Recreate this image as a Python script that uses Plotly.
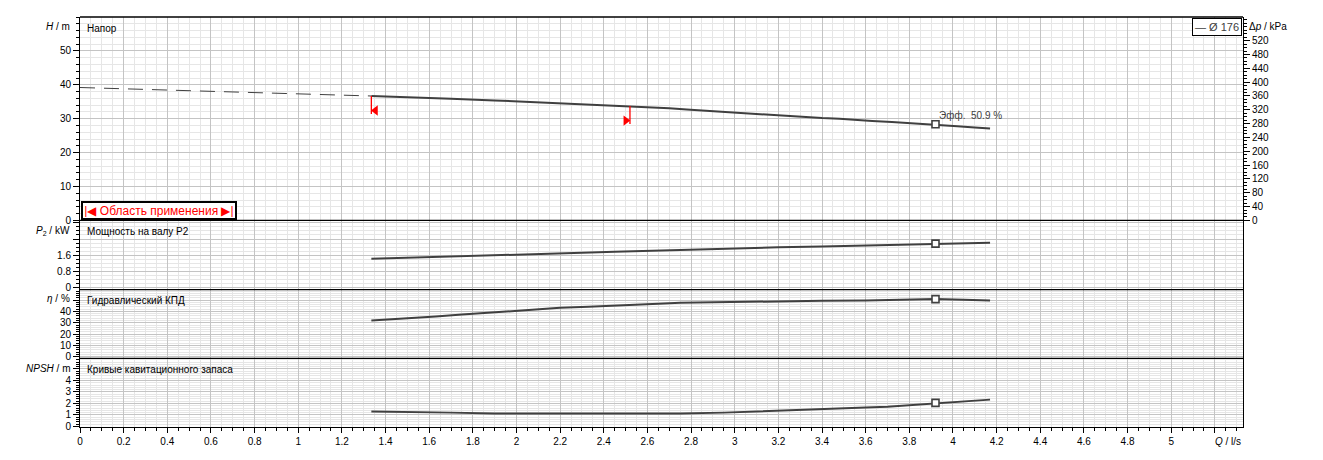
import numpy as np
import plotly.graph_objects as go

# ---------------- data ----------------
# extrapolated (dashed) part of the head curve
Q_EXT = [0.0, 0.1, 0.2, 0.3, 0.4, 0.5, 0.6, 0.7, 0.8, 0.9, 1.0, 1.1, 1.2, 1.335]
H_EXT = [39.2, 39.0, 38.85, 38.65, 38.45, 38.3, 38.15, 37.95, 37.7, 37.5, 37.3, 37.1, 36.9, 36.7]

# head curve (solid)
Q_H = [1.335, 1.5, 1.7, 1.9, 2.1, 2.3, 2.5, 2.62, 2.7, 2.78, 2.86, 2.94, 3.0, 3.1, 3.17, 3.24,
       3.32, 3.4, 3.48, 3.55, 3.63, 3.72, 3.8, 3.92, 4.02, 4.1, 4.17]
H_VAL = [36.7, 36.4, 35.9, 35.4, 34.85, 34.3, 33.8, 33.4, 33.05, 32.7, 32.35, 32.0, 31.75, 31.4, 31.1, 30.8,
         30.5, 30.2, 30.0, 29.6, 29.3, 29.0, 28.7, 28.35, 27.8, 27.4, 27.1]

# shaft power P2
Q_P = [1.335, 1.45, 1.6, 1.75, 1.95, 2.1, 2.3, 2.45, 2.6, 2.75, 3.0, 3.2, 3.4, 3.55, 3.7, 3.9, 4.05, 4.17]
P2_VAL = [1.42, 1.46, 1.51, 1.56, 1.61, 1.66, 1.72, 1.77, 1.82, 1.87, 1.94, 1.99, 2.03, 2.07, 2.12, 2.17, 2.2, 2.22]

# hydraulic efficiency
Q_ETA = [1.335, 1.46, 1.55, 1.63, 1.75, 1.85, 1.95, 2.04, 2.12, 2.2, 2.33, 2.47, 2.56, 2.65, 2.75,
         3.0, 3.2, 3.4, 3.6, 3.8, 3.92, 4.05, 4.17]
ETA_VAL = [32.1, 33.3, 34.5, 35.6, 37.2, 38.3, 39.6, 41.0, 42.2, 43.2, 44.1, 45.0, 45.9, 46.8, 47.6,
           48.5, 49.0, 49.4, 49.7, 50.6, 50.9, 50.3, 49.7]

# NPSH
Q_NPSH = [1.335, 1.5, 1.7, 1.9, 2.2, 2.5, 2.75, 2.95, 3.1, 3.25, 3.4, 3.5, 3.6, 3.7, 3.8, 3.9, 4.0, 4.1, 4.17]
NPSH_VAL = [1.3, 1.28, 1.2, 1.12, 1.12, 1.12, 1.12, 1.2, 1.29, 1.38, 1.47, 1.55, 1.64, 1.72, 1.85, 2.02, 2.14, 2.22, 2.33]

Q_OP = 3.92          # duty point
EFF_OP = 50.9        # efficiency at duty point, %
Q_MIN = 1.335        # application range limits
Q_MAX = 2.52
DIAMETER = "176"

X_TICKS = [round(0.2 * i, 1) for i in range(27)]
X_TICK_TEXT = [("0" if v == 0 else ("%g" % v)) for v in X_TICKS[:-1]] + [" "]
H_TICKS = [0, 10, 20, 30, 40, 50]
H_TICK_TEXT = ["0", "10", "20", "30", "40", "50"]
KPA_TICKS = list(range(0, 521, 40))
P_TICKS = [0, 0.8, 1.6, 2.4, 3.2]
P_TICK_TEXT = ["0", "0.8", "1.6", " ", " "]
ETA_TICKS = [0, 10, 20, 30, 40, 50]
ETA_TICK_TEXT = ["0", "10", "20", "30", "40", " "]
NPSH_TICKS = [0, 1, 2, 3, 4, 5]
NPSH_TICK_TEXT = ["0", "1", "2", "3", "4", " "]

# ---------------- styles ----------------
CURVE = "#404040"
RED = "#ff0000"
MAJOR = "#c4c4c4"
MINOR = "#e6e6e6"
FONT = "Liberation Sans"
ARROW_DROP = 5.3     # m, length of the red range marker line
TRI_DROP = 4.3       # m, triangle position below curve
TRI_DX = 0.019       # l/s, triangle offset from the marker line
PANEL_EDGES = [0.0, 0.1675, 0.3352, 0.5039, 1.0]

fig = go.Figure()

# head
fig.add_trace(go.Scatter(x=Q_EXT, y=H_EXT, mode="lines", xaxis="x", yaxis="y",
                         line=dict(color=CURVE, width=1, dash="15px,9px")))
fig.add_trace(go.Scatter(x=Q_H, y=H_VAL, mode="lines", xaxis="x", yaxis="y",
                         line=dict(color=CURVE, width=2)))
# power
fig.add_trace(go.Scatter(x=Q_P, y=P2_VAL, mode="lines", xaxis="x", yaxis="y2",
                         line=dict(color=CURVE, width=2)))
# efficiency
fig.add_trace(go.Scatter(x=Q_ETA, y=ETA_VAL, mode="lines", xaxis="x", yaxis="y3",
                         line=dict(color=CURVE, width=2)))
# npsh
fig.add_trace(go.Scatter(x=Q_NPSH, y=NPSH_VAL, mode="lines", xaxis="x", yaxis="y4",
                         line=dict(color=CURVE, width=2)))

# duty point markers
h_op = float(np.interp(Q_OP, Q_H, H_VAL))
duty = [(h_op, "y"), (float(np.interp(Q_OP, Q_P, P2_VAL)), "y2"),
        (float(np.interp(Q_OP, Q_ETA, ETA_VAL)), "y3"), (float(np.interp(Q_OP, Q_NPSH, NPSH_VAL)), "y4")]
for yv, ya in duty:
    fig.add_trace(go.Scatter(x=[Q_OP], y=[yv], mode="markers", xaxis="x", yaxis=ya,
                             marker=dict(symbol="square", size=7, color="white",
                                         line=dict(color=CURVE, width=1.6))))

# application range markers
for q, sym, dx in [(Q_MIN, "triangle-left", TRI_DX), (Q_MAX, "triangle-right", -TRI_DX)]:
    hq = float(np.interp(q, Q_EXT + Q_H[1:], H_EXT + H_VAL[1:]))
    fig.add_trace(go.Scatter(x=[q, q], y=[hq, hq - ARROW_DROP], mode="lines", xaxis="x", yaxis="y",
                             line=dict(color=RED, width=1.3)))
    fig.add_trace(go.Scatter(x=[q + dx], y=[hq - TRI_DROP], mode="markers", xaxis="x", yaxis="y",
                             marker=dict(symbol=sym, size=9, color=RED, line=dict(width=0))))

tickfont = dict(family=FONT, size=10, color="black")

def yax(domain, rng, tickvals, ticktext, minor):
    return dict(domain=domain, range=rng, tickvals=tickvals, ticktext=ticktext,
                showgrid=True, gridcolor=MAJOR, gridwidth=1, zeroline=False,
                ticks="outside", ticklen=6, tickcolor="black", tickwidth=1,
                showline=True, linecolor="black", linewidth=1, mirror=True,
                tickfont=tickfont, anchor="x", fixedrange=True,
                minor=dict(dtick=minor, tick0=0, showgrid=True, gridcolor=MINOR, gridwidth=1,
                           ticks="outside", ticklen=3, tickcolor="black"))

# the page body has an 8px margin: compensate so the plot area lands at x 80..1243, y 14..427
layout = dict(
    width=1315, height=452,
    margin=dict(l=72, r=80, t=6, b=33),
    paper_bgcolor="white", plot_bgcolor="white",
    showlegend=False,
    font=dict(family=FONT, size=10, color="black"),
    xaxis=dict(domain=[0, 1], range=[0, 5.329], anchor="y4",
               tickvals=X_TICKS, ticktext=X_TICK_TEXT,
               showgrid=True, gridcolor=MAJOR, gridwidth=1, zeroline=False,
               ticks="outside", ticklen=5, tickcolor="black",
               showline=True, linecolor="black", linewidth=1, mirror=False,
               tickfont=tickfont, fixedrange=True,
               minor=dict(dtick=0.05, tick0=0, showgrid=True, gridcolor=MINOR, gridwidth=1,
                          ticks="outside", ticklen=3, tickcolor="black")),
    yaxis=yax([PANEL_EDGES[3], PANEL_EDGES[4]], [0, 60], H_TICKS, H_TICK_TEXT, 2),
    yaxis2=yax([PANEL_EDGES[2], PANEL_EDGES[3]], [-0.1, 3.32], P_TICKS, P_TICK_TEXT, 0.2),
    yaxis3=yax([PANEL_EDGES[1], PANEL_EDGES[2]], [-1.4, 59.3], ETA_TICKS, ETA_TICK_TEXT, 2),
    yaxis4=yax([PANEL_EDGES[0], PANEL_EDGES[1]], [-0.05, 5.92], NPSH_TICKS, NPSH_TICK_TEXT, 0.2),
    yaxis5=dict(overlaying="y", side="right", anchor="x", range=[0, 60 * 9.80665],
                tickvals=KPA_TICKS, showgrid=False, zeroline=False,
                ticks="outside", ticklen=6, tickcolor="black", tickfont=tickfont,
                showline=False, fixedrange=True,
                minor=dict(dtick=10, tick0=0, ticks="outside", ticklen=3, tickcolor="black", showgrid=False)),
)
fig.update_layout(**layout)
# dummy trace to show the kPa axis
fig.add_trace(go.Scatter(x=[None], y=[None], xaxis="x", yaxis="y5", mode="lines", hoverinfo="skip"))

# panel separators and top border
shapes = [dict(type="line", xref="paper", yref="paper", x0=0, x1=1, y0=e, y1=e,
               line=dict(color="black", width=1.3), layer="above") for e in PANEL_EDGES[1:]]
fig.update_layout(shapes=shapes)

ann = []
title_font = dict(family=FONT, size=10, color="black")
for txt, ref in [("Напор", "y"), ("Мощность на валу P2", "y2"),
                 ("Гидравлический КПД", "y3"), ("Кривые кавитационного запаса", "y4")]:
    ann.append(dict(text=txt, xref="paper", x=0, xanchor="left", xshift=5,
                    yref=ref + " domain", y=1, yanchor="middle", yshift=-11,
                    showarrow=False, font=title_font))
for txt, ref, dy in [("<i>H</i> / m", "y", -9), ("<i>P</i><sub>2</sub> / kW", "y2", -11),
                     ("<i>η</i> / %", "y3", -9), ("<i>NPSH</i> / m", "y4", -10)]:
    ann.append(dict(text=txt, xref="paper", x=0, xanchor="right", xshift=-8,
                    yref=ref + " domain", y=1, yanchor="middle", yshift=dy,
                    showarrow=False, font=tickfont))
ann.append(dict(text="Δ<i>p</i> / kPa", xref="paper", x=1, xanchor="left", xshift=4,
                yref="paper", y=1, yanchor="middle", yshift=-9, showarrow=False, font=tickfont))
ann.append(dict(text="<i>Q</i> / l/s", xref="paper", x=1, xanchor="right", xshift=0,
                yref="paper", y=0, yanchor="top", yshift=-7, showarrow=False, font=tickfont))
ann.append(dict(text="— Ø " + DIAMETER, xref="paper", x=1, xanchor="right", xshift=-1,
                yref="paper", y=1, yanchor="top", yshift=-1, showarrow=False,
                font=dict(family=FONT, size=11, color=CURVE),
                bordercolor="black", borderwidth=1, borderpad=2, bgcolor="white"))
ann.append(dict(text="Эфф.  %.1f %%" % EFF_OP, xref="x", x=Q_OP, xanchor="left", xshift=1,
                yref="y", y=h_op, yanchor="bottom", yshift=1, showarrow=False,
                font=dict(family=FONT, size=10, color=CURVE)))
ann.append(dict(text="|◀ Область применения ▶|", xref="paper", x=0, xanchor="left", xshift=1,
                yref="y domain", y=0, yanchor="bottom", yshift=0, showarrow=False,
                font=dict(family=FONT, size=12, color=RED), width=150, height=13,
                bordercolor="black", borderwidth=2, borderpad=1, bgcolor="white"))
fig.update_layout(annotations=ann)

fig.write_html("out.html")
